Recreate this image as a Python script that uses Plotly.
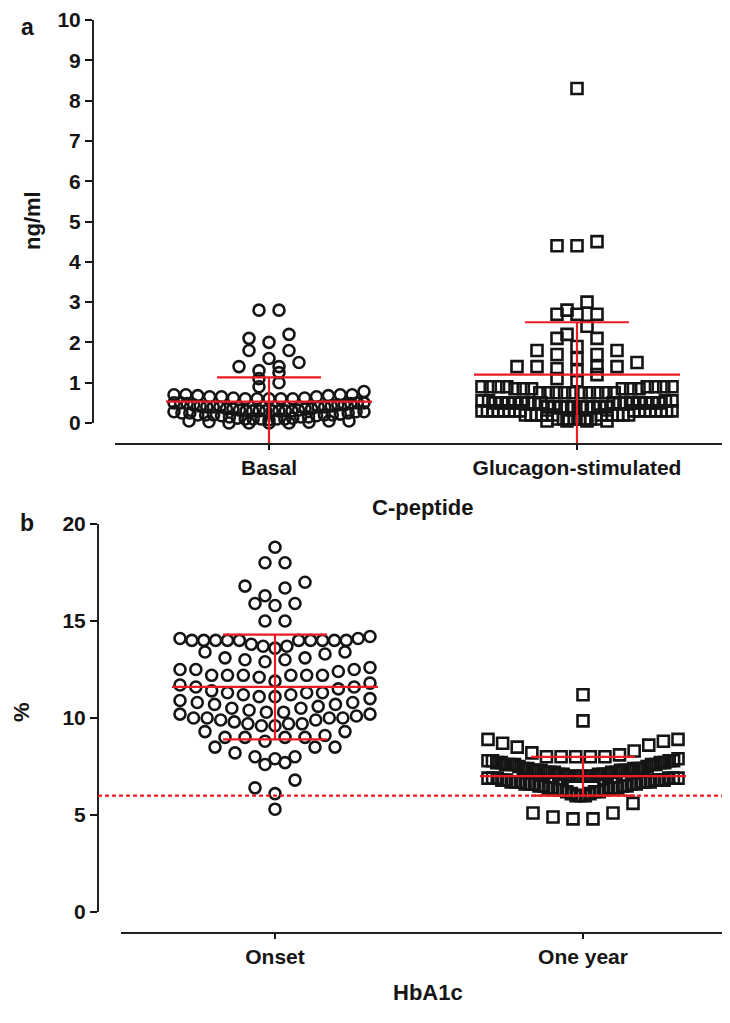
import plotly.graph_objects as go

# ---------------- data ----------------
cpep_categories = ["Basal", "Glucagon-stimulated"]
hba_categories = ["Onset", "One year"]

basal = [2.8, 2.8, 2.2, 2.1, 2.0, 1.8, 1.8, 1.6, 1.5, 1.4, 1.4, 1.3, 1.25, 1.1, 1.0, 0.9,
         0.78, 0.7, 0.7, 0.7, 0.7, 0.68, 0.68, 0.65, 0.65, 0.65, 0.62, 0.62, 0.6, 0.6, 0.6, 0.6, 0.6,
         0.5, 0.5, 0.5, 0.5, 0.48, 0.48, 0.45, 0.45, 0.45, 0.42, 0.42, 0.4, 0.4, 0.4, 0.4, 0.4,
         0.35, 0.35, 0.35, 0.35, 0.32, 0.32, 0.3, 0.3, 0.3, 0.3, 0.3, 0.3, 0.3, 0.3, 0.28, 0.28, 0.28,
         0.25, 0.25, 0.25, 0.22, 0.2, 0.2, 0.2, 0.2, 0.2, 0.18, 0.18, 0.15, 0.15, 0.15,
         0.12, 0.12, 0.1, 0.1, 0.1, 0.1, 0.1, 0.08, 0.05, 0.05, 0.05, 0.03, 0.02, 0.0, 0.0, 0.0, 0.0]

glucagon = [8.3, 4.5, 4.4, 4.4, 3.0, 2.8, 2.7, 2.7, 2.7, 2.4, 2.2, 2.1, 2.1, 1.9, 1.8, 1.8, 1.7, 1.7,
            1.6, 1.5, 1.4, 1.4, 1.4, 1.4, 1.35, 1.3, 1.2, 1.1, 1.05,
            0.9, 0.9, 0.9, 0.9, 0.9, 0.9, 0.9, 0.9, 0.85, 0.85, 0.85, 0.85, 0.85, 0.85,
            0.75, 0.75, 0.75, 0.75, 0.75, 0.75, 0.75, 0.75, 0.75, 0.75,
            0.55, 0.55, 0.55, 0.55, 0.5, 0.5, 0.5, 0.5, 0.5, 0.5, 0.5, 0.5, 0.5, 0.5, 0.5, 0.5,
            0.5, 0.5, 0.5, 0.5, 0.4, 0.4, 0.4, 0.4, 0.4, 0.4, 0.4, 0.4, 0.4, 0.4,
            0.3, 0.3, 0.3, 0.3, 0.3, 0.3, 0.3, 0.3, 0.3, 0.3, 0.3, 0.3, 0.3, 0.3, 0.3, 0.3,
            0.2, 0.2, 0.2, 0.2, 0.2, 0.2, 0.2, 0.2, 0.2, 0.2, 0.2, 0.2,
            0.1, 0.1, 0.1, 0.1, 0.1, 0.1, 0.1, 0.1, 0.05, 0.05, 0.05, 0.05]

onset = [18.8, 18.0, 18.0, 17.0, 16.8, 16.7, 16.3, 15.9, 15.9, 15.8, 15.0, 15.0,
         14.2, 14.1, 14.1, 14.0, 14.0, 14.0, 14.0, 14.0, 14.0, 14.0, 14.0, 14.0, 14.0,
         13.8, 13.7, 13.7, 13.6,
         13.4, 13.4, 13.3, 13.1, 13.1, 13.0, 13.0, 12.9,
         12.6, 12.5, 12.5, 12.5, 12.4, 12.2, 12.2, 12.2, 12.2, 12.2, 12.2, 12.1,
         11.9, 11.8, 11.7, 11.6, 11.6, 11.5,
         11.4, 11.3, 11.3, 11.3, 11.2, 11.2, 11.1, 11.1, 11.0,
         10.9, 10.8, 10.8, 10.7, 10.7, 10.6, 10.5, 10.5, 10.4, 10.3, 10.3, 10.2, 10.2, 10.1,
         10.0, 10.0, 10.0, 10.0, 9.9, 9.9,
         9.8, 9.7, 9.7, 9.7, 9.6, 9.6,
         9.3, 9.3, 9.1, 9.0, 9.0, 9.0, 9.0, 8.8,
         8.5, 8.5, 8.5, 8.2, 8.0, 8.0, 7.9, 7.7, 7.6,
         6.8, 6.4, 6.1, 5.3]

one_year = [11.2, 9.85,
            8.9, 8.9, 8.8, 8.7, 8.6, 8.5, 8.3, 8.2, 8.1, 8.0, 8.0, 8.0, 8.0, 8.0, 7.9,
            7.8, 7.8, 7.8, 7.8, 7.7, 7.7, 7.7, 7.7, 7.6, 7.6, 7.6, 7.6, 7.6, 7.5, 7.5,
            7.4, 7.4, 7.4, 7.4, 7.4, 7.3, 7.3, 7.3, 7.3, 7.3, 7.3, 7.2, 7.2, 7.2, 7.2, 7.2,
            7.1, 7.1, 7.1, 7.1, 7.1, 7.0, 7.0, 7.0, 7.0, 7.0, 7.0, 7.0, 6.9, 6.9, 6.9, 6.9, 6.9, 6.9,
            6.8, 6.8, 6.8, 6.8, 6.8, 6.7, 6.7, 6.7, 6.7, 6.7, 6.7, 6.6, 6.6, 6.6, 6.6, 6.6,
            6.5, 6.5, 6.5, 6.5, 6.4, 6.4, 6.4, 6.4, 6.4, 6.3, 6.3, 6.3,
            6.2, 6.2, 6.2, 6.1, 6.1, 6.0, 6.0, 6.0,
            5.6, 5.1, 5.1, 4.9, 4.8, 4.8]

cpep_mean = [0.53, 1.2]
cpep_upper = [1.13, 2.5]
cpep_lower = [-0.7, -0.7]

hba_mean = [11.6, 7.0]
hba_upper = [14.3, 8.0]
hba_lower = [8.9, 6.0]
hba_target = 6.0

cpep_yticks = [0, 1, 2, 3, 4, 5, 6, 7, 8, 9, 10]
hba_yticks = [0, 5, 10, 15, 20]

# ---------------- layout helpers ----------------
PAGE_W, PAGE_H = 730, 1023
BODY = 8                       # default page margin around the figure
FW, FH = PAGE_W - BODY, PAGE_H - BODY
PX_X = 308.0                   # px per category unit


def px(xp):                    # page x pixel -> paper fraction
    return (xp - BODY) / FW


def py(yp):                    # page y pixel -> paper fraction
    return 1 - (yp - BODY) / FH


def swarm_offsets(vals, h, d_px, w_px):
    idx = sorted(range(len(vals)), key=lambda i: -vals[i])
    bins, cur = [], []
    for i in idx:
        if cur and vals[cur[0]] - vals[i] > h + 1e-9:
            bins.append(cur)
            cur = []
        cur.append(i)
    if cur:
        bins.append(cur)
    offs = [0.0] * len(vals)
    for b in bins:
        b = sorted(b, key=lambda i: vals[i])
        n = len(b)
        s = d_px if n <= 1 else min(d_px, w_px / (n - 1))
        for k, i in enumerate(b):
            if n % 2 == 1:
                slot = ((k + 1) // 2) * (-1 if k % 2 == 1 else 1)
            else:
                slot = (k // 2 + 0.5) * (-1 if k % 2 == 0 else 1)
            offs[i] = slot * s / PX_X
    return offs


BLACK = "#151515"
RED = "#ec1c24"
FONT = "Liberation Sans"

fig = go.Figure()


def add_group(vals, center, symbol, xa, ya, h):
    offs = swarm_offsets(vals, h, 20, 190)
    fig.add_trace(go.Scatter(
        x=[center + o for o in offs], y=vals, mode="markers",
        xaxis=xa, yaxis=ya, showlegend=False, hoverinfo="y",
        marker=dict(symbol=symbol, size=11, color=BLACK, line=dict(width=2.6, color=BLACK)),
        cliponaxis=False,
    ))


add_group(basal, 0, "circle-open", "x", "y", 0.2)
add_group(glucagon, 1, "square-open", "x", "y", 0.2)
add_group(onset, 0, "circle-open", "x2", "y2", 0.7)
add_group(one_year, 1, "square-open", "x2", "y2", 0.9)


def add_errbars(means, uppers, lowers, xa, ya):
    wm = 103 / PX_X
    ws = 52 / PX_X
    xs, ys = [], []
    for c, (m, u, l) in enumerate(zip(means, uppers, lowers)):
        xs += [c - wm, c + wm, None, c - ws, c + ws, None, c - ws, c + ws, None, c, c, None]
        ys += [m, m, None, u, u, None, l, l, None, u, l, None]
    fig.add_trace(go.Scatter(x=xs, y=ys, mode="lines", xaxis=xa, yaxis=ya,
                             showlegend=False, hoverinfo="skip",
                             line=dict(color=RED, width=2.2)))


add_errbars(cpep_mean, cpep_upper, cpep_lower, "x", "y")
add_errbars(hba_mean, hba_upper, hba_lower, "x2", "y2")

# ---------------- axes ----------------
tickfont = dict(family=FONT, size=21, color=BLACK, weight="bold")
top_y0, top_y10, top_xline = 423, 20, 444
bot_y0, bot_y20, bot_xline = 912, 524, 933
top_ppu = (top_y0 - top_y10) / 10.0
bot_ppu = (bot_y0 - bot_y20) / 20.0

common = dict(showgrid=False, zeroline=False, showline=False, automargin=False,
              ticks="outside", tickwidth=2, tickcolor=BLACK, tickfont=tickfont)

fig.update_layout(
    template="none",
    width=FW, height=FH, margin=dict(l=0, r=0, t=0, b=0, autoexpand=False),
    paper_bgcolor="white", plot_bgcolor="white",
    xaxis=dict(domain=[px(93), 1], range=[-(269 - 93) / PX_X, (730 - 269) / PX_X],
               tickvals=[0, 1], ticktext=cpep_categories, ticklen=5, anchor="y", **common),
    yaxis=dict(domain=[py(top_xline), py(top_y10)],
               range=[-(top_xline - top_y0) / top_ppu, 10],
               tickvals=cpep_yticks, ticklen=7, anchor="x", **common),
    xaxis2=dict(domain=[px(98), 1], range=[-(275 - 98) / PX_X, (730 - 275) / PX_X],
                tickvals=[0, 1], ticktext=hba_categories, ticklen=5, anchor="y2", **common),
    yaxis2=dict(domain=[py(bot_xline), py(bot_y20)],
                range=[-(bot_xline - bot_y0) / bot_ppu, 20],
                tickvals=hba_yticks, ticklen=7, anchor="x2", **common),
)

line_style = dict(color="#222222", width=2)
fig.add_shape(type="line", xref="paper", yref="y", x0=px(93), x1=px(93), y0=0, y1=10, line=line_style)
fig.add_shape(type="line", xref="paper", yref="paper", x0=px(115), x1=1, y0=py(top_xline), y1=py(top_xline), line=line_style)
fig.add_shape(type="line", xref="paper", yref="y2", x0=px(98), x1=px(98), y0=0, y1=20, line=line_style)
fig.add_shape(type="line", xref="paper", yref="paper", x0=px(121), x1=1, y0=py(bot_xline), y1=py(bot_xline), line=line_style)
fig.add_shape(type="line", xref="paper", yref="y2", x0=px(98), x1=1, y0=hba_target, y1=hba_target,
              line=dict(color=RED, width=2.2, dash="4px,3px"))

bold = dict(family=FONT, color=BLACK, weight="bold")


def ann(text, x, y, size, angle=0):
    fig.add_annotation(text=text, x=px(x), y=py(y), xref="paper", yref="paper",
                       showarrow=False, textangle=angle, xanchor="center", yanchor="middle",
                       font=dict(size=size, **bold))


ann("a", 27, 27, 23)
ann("b", 27, 523, 23)
ann("ng/ml", 33, 221, 22, -90)
ann("%", 21, 712, 22, -90)
ann("C-peptide", 422, 507, 22)
ann("HbA1c", 428, 992, 22)

fig.write_html("out.html")
